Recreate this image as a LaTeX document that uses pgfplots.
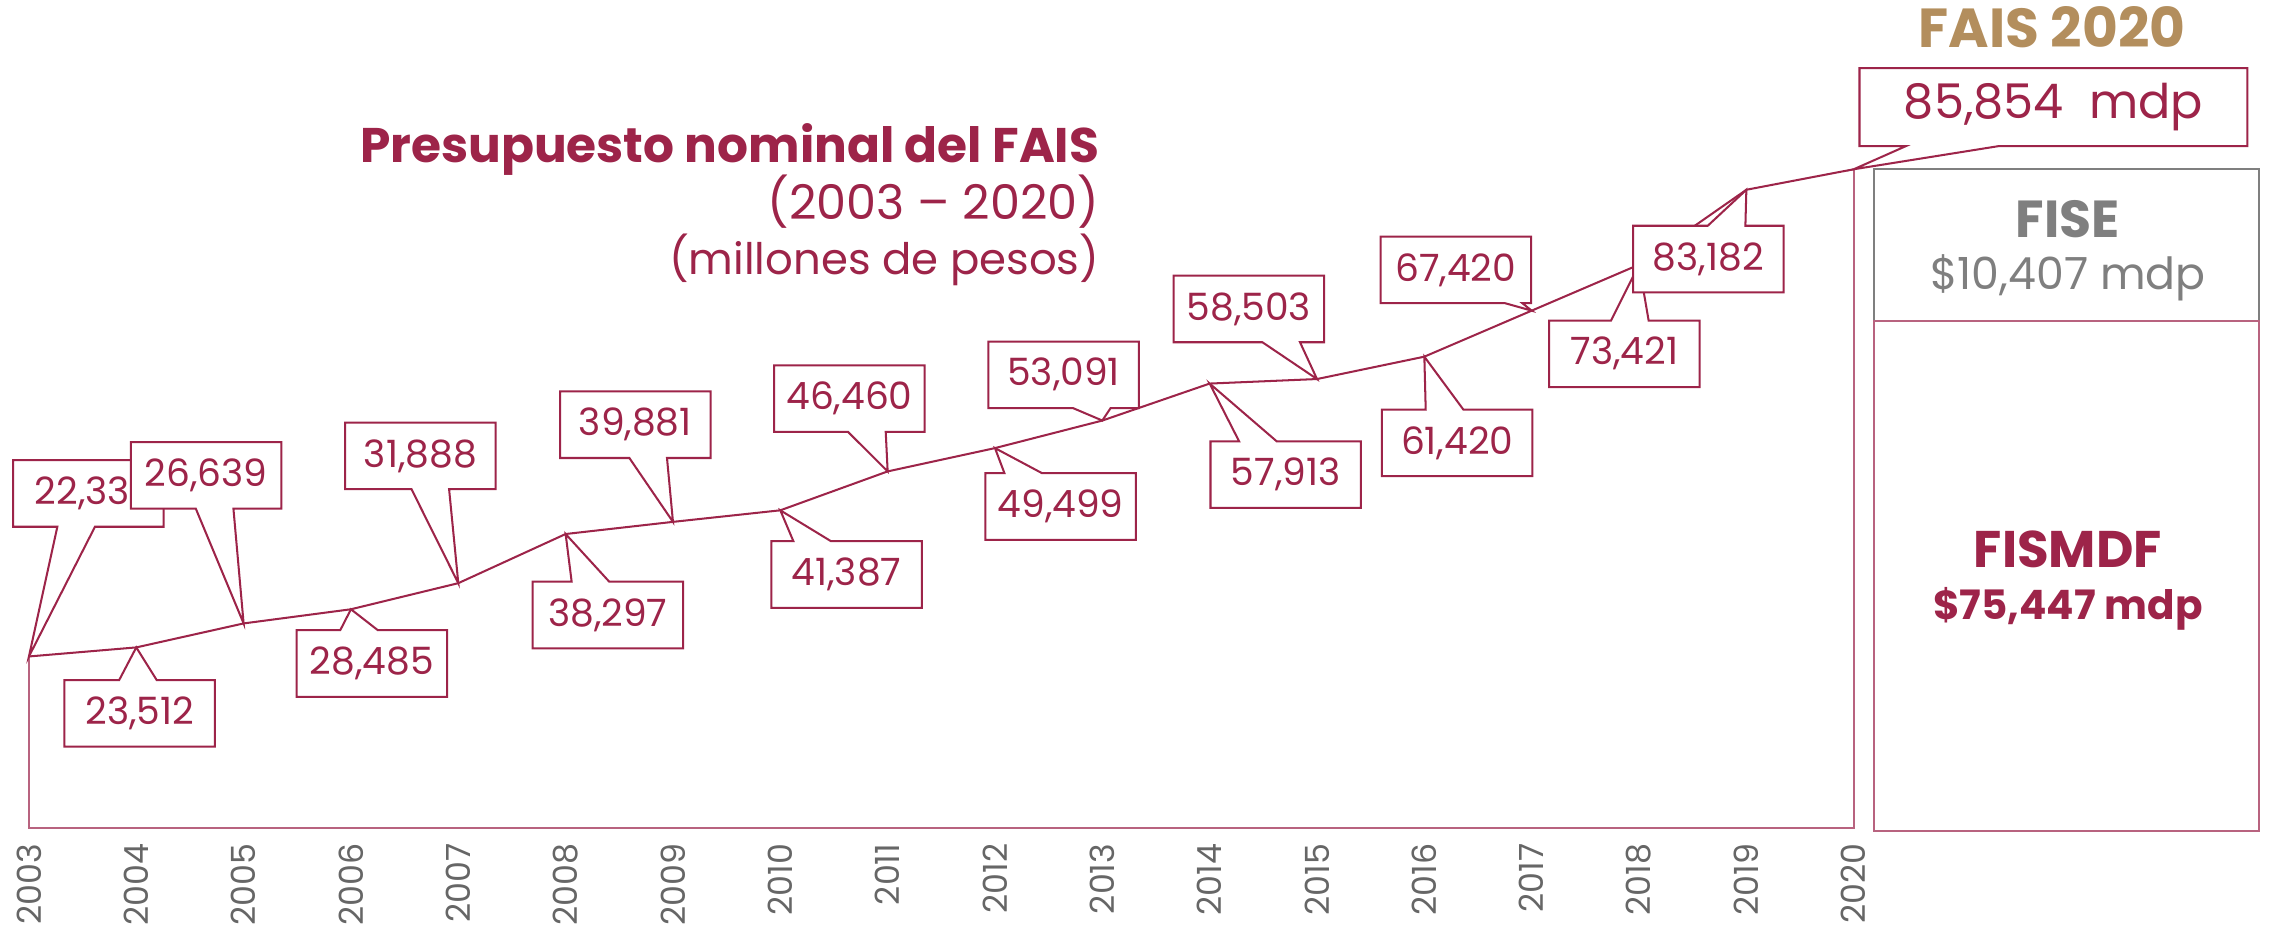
\documentclass[border=0pt]{standalone}
\usepackage{fontspec}
\setmainfont{Poppins}
\usepackage{pgfplots}
\pgfplotsset{compat=1.18}
\usetikzlibrary{shapes.callouts}
\definecolor{vino}{HTML}{9D2449}
\definecolor{oro}{HTML}{B38E5D}
\definecolor{gris}{HTML}{7F7F7F}
\definecolor{rosa}{HTML}{B8637F}
\definecolor{ticks}{HTML}{666666}
\begin{document}
\begin{tikzpicture}
\begin{axis}[
    at={(0,0)}, anchor=south west,
    scale only axis, width=630.5pt, height=238.5pt,
    xmin=2003, xmax=2020, ymin=0, ymax=90000,
    clip=false, hide y axis,
    axis x line*=bottom, x axis line style={draw=none},
    xtick={2003,...,2020}, major tick length=0pt,
    /pgf/number format/assume math mode=true,
    /pgf/number format/1000 sep={},
    xticklabel style={yshift=-2pt, rotate=90, anchor=east,
        font=\fontsize{11.5}{13}\selectfont, text=ticks},
]
\addplot[rosa, line width=0.7pt] coordinates {
    (2003,22331) (2003,0) (2020,0) (2020,85854)};
\addplot[vino, line width=0.7pt] coordinates {
    (2003,22331) (2004,23512) (2005,26639) (2006,28485) (2007,31888)
    (2008,38297) (2009,39881) (2010,41387) (2011,46460) (2012,49499)
    (2013,53091) (2014,57913) (2015,58503) (2016,61420) (2017,67420)
    (2018,73421) (2019,83182) (2020,85854)};
\coordinate (d2003) at (axis cs:2003,22331);
\coordinate (d2004) at (axis cs:2004,23512);
\coordinate (d2005) at (axis cs:2005,26639);
\coordinate (d2006) at (axis cs:2006,28485);
\coordinate (d2007) at (axis cs:2007,31888);
\coordinate (d2008) at (axis cs:2008,38297);
\coordinate (d2009) at (axis cs:2009,39881);
\coordinate (d2010) at (axis cs:2010,41387);
\coordinate (d2011) at (axis cs:2011,46460);
\coordinate (d2012) at (axis cs:2012,49499);
\coordinate (d2013) at (axis cs:2013,53091);
\coordinate (d2014) at (axis cs:2014,57913);
\coordinate (d2015) at (axis cs:2015,58503);
\coordinate (d2016) at (axis cs:2016,61420);
\coordinate (d2017) at (axis cs:2017,67420);
\coordinate (d2018) at (axis cs:2018,73421);
\coordinate (d2019) at (axis cs:2019,83182);
\coordinate (d2020) at (axis cs:2020,85854);
\end{axis}

% one unit = one pixel of the 1568 px wide reference, y downwards
\begin{scope}[x=0.5pt,y=-0.5pt,shift={(-10pt,286pt)},
    co/.style={rectangle callout, draw=vino, fill=white, line width=0.7pt,
        minimum width=52pt, minimum height=23pt, inner sep=0pt,
        text=vino, font=\fontsize{13}{15}\selectfont,
        callout pointer width=13pt}]
\node[co, callout absolute pointer={(d2003)}] at (61,341) {22,331};
\node[co, callout absolute pointer={(d2005)}] at (142.5,328.5) {26,639};
\node[co, callout absolute pointer={(d2004)}] at (96.5,493) {23,512};
\node[co, callout absolute pointer={(d2006)}] at (257,458.5) {28,485};
\node[co, callout absolute pointer={(d2007)}] at (290.5,315) {31,888};
\node[co, callout absolute pointer={(d2008)}] at (420,425) {38,297};
\node[co, callout absolute pointer={(d2009)}] at (439,293.5) {39,881};
\node[co, callout absolute pointer={(d2010)}] at (585,397) {41,387};
\node[co, callout absolute pointer={(d2011)}] at (587,275.5) {46,460};
\node[co, callout absolute pointer={(d2012)}] at (733,350) {49,499};
\node[co, callout absolute pointer={(d2013)}] at (735,259) {53,091};
\node[co, callout absolute pointer={(d2014)}] at (888.5,328) {57,913};
\node[co, callout absolute pointer={(d2015)}] at (863,213.5) {58,503};
\node[co, callout absolute pointer={(d2016)}] at (1007,306) {61,420};
\node[co, callout absolute pointer={(d2017)}, callout pointer width=6pt] at (1006,186.5) {67,420};
\node[co, callout absolute pointer={(d2018)}] at (1122.5,244.5) {73,421};
\node[co, callout absolute pointer={(d2019)}] at (1180.5,179) {83,182};
\node[co, callout absolute pointer={(d2020)}, minimum width=134pt, minimum height=27pt,
    callout pointer width=32pt, font=\fontsize{16.5}{19}\selectfont] at (1419,74) {85,854\ \ mdp};

% title
\node[anchor=base east, inner sep=0pt, text=vino, font=\bfseries\fontsize{16.8}{19}\selectfont] at (760,112) {Presupuesto nominal del FAIS};
\node[anchor=base east, inner sep=0pt, text=vino, font=\fontsize{16.5}{19}\selectfont] at (760,152) {(2003 – 2020)};
\node[anchor=base east, inner sep=0pt, text=vino, font=\fontsize{15}{18}\selectfont] at (760,190) {(millones de pesos)};

% 2020 panel
\node[anchor=base, text=oro, font=\bfseries\fontsize{19}{22}\selectfont] at (1418,33) {FAIS 2020};
\draw[gris, line width=0.6pt] (1295,117) rectangle (1561,222);
\draw[rosa, line width=0.7pt] (1295,222) rectangle (1561,574);
\node[anchor=base, text=gris, font=\bfseries\fontsize{18}{21}\selectfont] at (1429,164) {FISE};
\node[anchor=base, text=gris, font=\fontsize{15.3}{18}\selectfont] at (1429,200) {\$10,407 mdp};
\node[anchor=base, text=vino, font=\bfseries\fontsize{17.8}{21}\selectfont] at (1429,392) {FISMDF};
\node[anchor=base, text=vino, font=\bfseries\fontsize{14}{17}\selectfont] at (1429,428) {\$75,447 mdp};

\pgfresetboundingbox
\path (0,0) rectangle (1568,639);
\end{scope}
\end{tikzpicture}
\end{document}
